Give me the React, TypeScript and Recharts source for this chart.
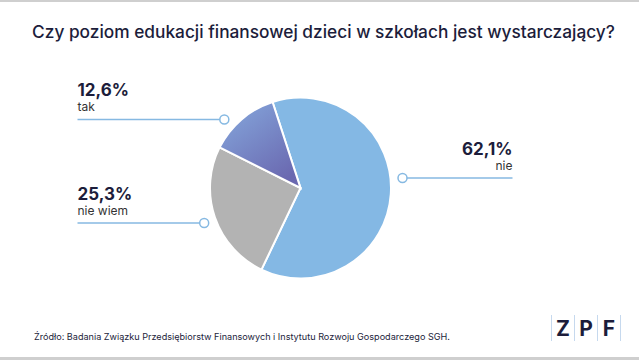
import { PieChart, Pie, Cell } from 'recharts';

const categories = ['nie', 'nie wiem', 'tak'];
const shares = [62.1, 25.3, 12.6];
const valueLabels = ['62,1%', '25,3%', '12,6%'];

const TITLE = 'Czy poziom edukacji finansowej dzieci w szkołach jest wystarczający?';
const SOURCE = 'Źródło: Badania Związku Przedsiębiorstw Finansowych i Instytutu Rozwoju Gospodarczego SGH.';

const data = categories.map((name, i) => ({ name, value: shares[i], label: valueLabels[i] }));

const FILLS = ['#84b8e4', '#b3b3b3', 'url(#takGrad)'];
const NAVY = '#1c1d3b';
const LINE = '#86b9e2';

// where each callout leaves the pie (degrees) and which side its text sits on
const CALLOUTS = [
  { angle: 5.6, side: 'right' },
  { angle: 200, side: 'left' },
  { angle: 138, side: 'left' },
];

const renderLabel = (props: any) => {
  const { cx, cy, outerRadius, index } = props;
  const c = CALLOUTS[index];
  const r = outerRadius + 12;
  const rad = (c.angle * Math.PI) / 180;
  const px = cx + r * Math.cos(rad);
  const py = cy - r * Math.sin(rad);
  const right = c.side === 'right';
  const endX = right ? cx + 212 : cx - 223;
  const anchor = right ? 'end' : 'start';
  return (
    <g key={`lbl-${index}`}>
      <line x1={right ? px + 4 : px - 4} y1={py} x2={endX} y2={py} stroke={LINE} strokeWidth={1.5} />
      <circle cx={px} cy={py} r={4.5} fill="#fff" stroke={LINE} strokeWidth={1.5} />
      <text x={endX} y={py - 23} textAnchor={anchor} fill={NAVY} fontSize={17} fontWeight={700} fontFamily="Inter, sans-serif">
        {data[index].label}
      </text>
      <text x={endX} y={py - 8} textAnchor={anchor} fill="#333" fontSize={12} fontFamily="Inter, sans-serif">
        {data[index].name}
      </text>
    </g>
  );
};

export default function App() {
  return (
    <div style={{ position: 'absolute', left: 0, top: 0, width: 639, height: 360, background: '#fff', fontFamily: 'Inter, sans-serif', overflow: 'hidden' }}>
      <div style={{ position: 'absolute', left: 0, top: 0, width: 639, height: 2, background: '#cfcfcf' }} />
      <div style={{ position: 'absolute', left: 0, top: 21, width: 639, textAlign: 'center', paddingLeft: 8, boxSizing: 'border-box', fontSize: 17.3, fontWeight: 500, color: NAVY, whiteSpace: 'nowrap' }}>
        {TITLE}
      </div>

      <div style={{ position: 'absolute', left: 0, top: 0 }}>
        <PieChart width={639} height={360}>
          <defs>
            <linearGradient id="takGrad" x1="0" y1="0" x2="0.7" y2="1">
              <stop offset="0%" stopColor="#86aade" />
              <stop offset="100%" stopColor="#6a68b0" />
            </linearGradient>
          </defs>
          <Pie
            data={data}
            dataKey="value"
            nameKey="name"
            cx={295.5}
            cy={183}
            outerRadius={90.5}
            startAngle={108}
            endAngle={-252}
            stroke="#fff"
            strokeWidth={2}
            label={renderLabel}
            labelLine={false}
            isAnimationActive={false}
          >
            {data.map((d, i) => (
              <Cell key={d.name} fill={FILLS[i]} />
            ))}
          </Pie>
        </PieChart>
      </div>

      <div style={{ position: 'absolute', left: 34, top: 331, fontSize: 9.1, color: NAVY, whiteSpace: 'nowrap' }}>
        {SOURCE}
      </div>

      <div style={{ position: 'absolute', left: 551, top: 315, height: 26, display: 'flex', alignItems: 'center' }}>
        {['Z', 'P', 'F'].map((ch) => (
          <div key={ch} style={{ borderLeft: '1px solid #c6d9ee', height: 26, width: 22, display: 'flex', alignItems: 'center', justifyContent: 'center', fontSize: 21, fontWeight: 700, color: NAVY }}>
            {ch}
          </div>
        ))}
        <div style={{ borderLeft: '1px solid #c6d9ee', height: 26 }} />
      </div>

      <div style={{ position: 'absolute', left: 0, top: 357, width: 639, height: 3, background: '#cfcfcf' }} />
    </div>
  );
}
